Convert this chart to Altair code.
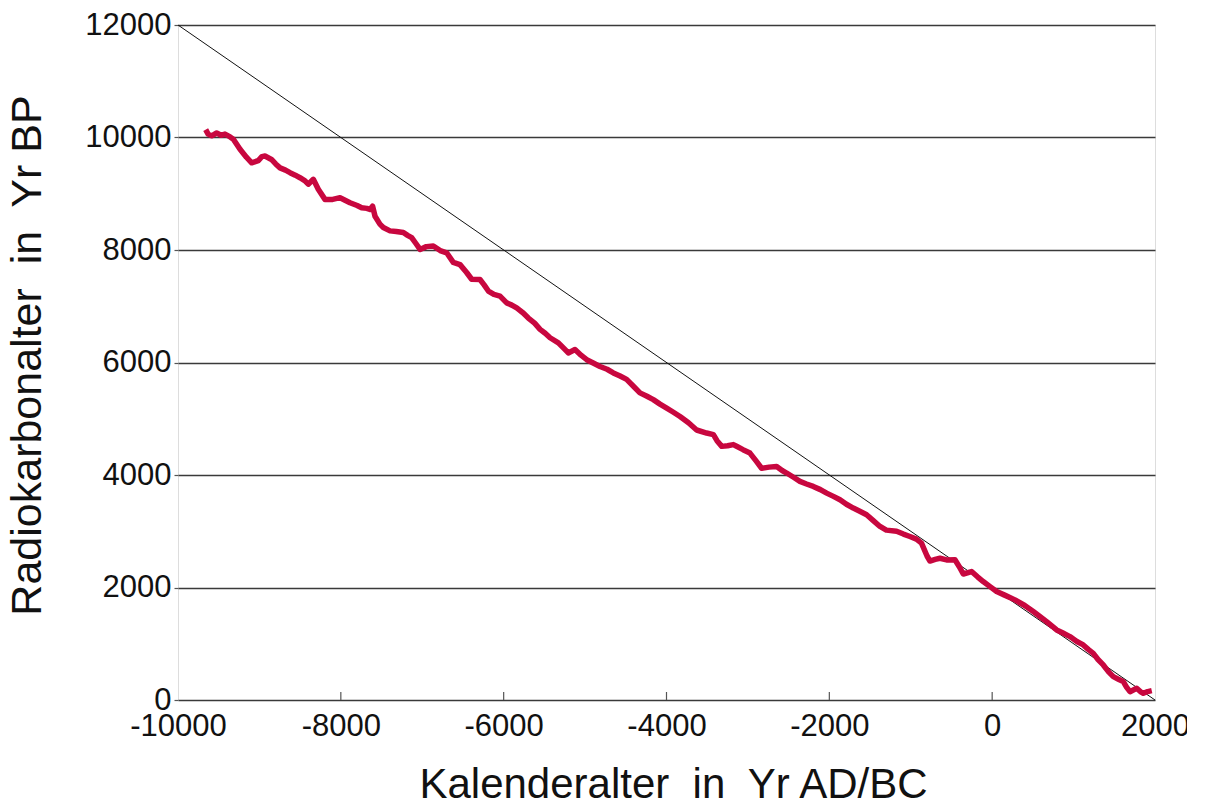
import altair as alt
import pandas as pd

# Calibration curve (calendar year AD/BC vs radiocarbon age BP)
cal_years = [-9660, -9630, -9586, -9525, -9470, -9423, -9360, -9320, -9238, -9160,
             -9095, -9014, -8970, -8932, -8852, -8800, -8747, -8680, -8624, -8560,
             -8502, -8440, -8400, -8338, -8277, -8195, -8100, -8010, -7887, -7800,
             -7744, -7680, -7642, -7610, -7580, -7520, -7478, -7396, -7320, -7232,
             -7180, -7130, -7080, -7027, -6950, -6864, -6780, -6700, -6619, -6536,
             -6455, -6393, -6291, -6240, -6188, -6120, -6045, -5963, -5900, -5840,
             -5760, -5697, -5620, -5553, -5490, -5430, -5328, -5260, -5206, -5124,
             -5050, -4980, -4900, -4817, -4730, -4653, -4570, -4490, -4400, -4326,
             -4240, -4162, -4080, -3998, -3920, -3834, -3730, -3630, -3507, -3424,
             -3380, -3321, -3250, -3179, -3139, -3060, -2975, -2900, -2832, -2740,
             -2647, -2580, -2524, -2440, -2361, -2280, -2197, -2110, -2033, -1950,
             -1869, -1790, -1706, -1620, -1542, -1460, -1378, -1300, -1174, -1090,
             -1010, -930, -868, -800, -764, -700, -641, -560, -457, -400,
             -355, -253, -180, -110, -30, 55, 160, 280, 400, 505,
             590, 669, 740, 792, 870, 955, 1040, 1119, 1180, 1242,
             1300, 1365, 1430, 1488, 1550, 1611, 1650, 1693, 1775, 1820,
             1857, 1910, 1960]
c14_ages = [10140, 10060, 10030, 10080, 10040, 10060, 10010, 9970, 9790, 9650,
            9550, 9590, 9660, 9670, 9610, 9530, 9460, 9420, 9375, 9330,
            9285, 9230, 9170, 9256, 9080, 8900, 8900, 8930, 8840, 8790,
            8750, 8740, 8720, 8780, 8600, 8460, 8400, 8340, 8330, 8310,
            8260, 8220, 8120, 8010, 8060, 8070, 7990, 7950, 7780, 7740,
            7600, 7480, 7476, 7380, 7270, 7210, 7180, 7060, 7020, 6970,
            6880, 6790, 6700, 6590, 6520, 6440, 6350, 6250, 6170, 6230,
            6130, 6050, 5990, 5930, 5880, 5815, 5760, 5700, 5570, 5460,
            5400, 5340, 5260, 5190, 5120, 5040, 4930, 4800, 4746, 4717,
            4610, 4509, 4520, 4540, 4510, 4450, 4390, 4250, 4120, 4140,
            4150, 4080, 4035, 3960, 3886, 3840, 3797, 3740, 3678, 3620,
            3560, 3480, 3412, 3350, 3293, 3190, 3085, 3020, 3000, 2950,
            2907, 2860, 2790, 2560, 2470, 2500, 2520, 2490, 2492, 2360,
            2240, 2284, 2190, 2106, 2020, 1928, 1860, 1780, 1680, 1572,
            1480, 1394, 1310, 1246, 1190, 1127, 1040, 979, 900, 830,
            720, 623, 500, 415, 370, 326, 230, 148, 208, 150,
            119, 150, 166]

# 1:1 reference line
ref_x = [-10000, 2000]
ref_y = [12000, 0]

# axis ticks
x_ticks = [-10000, -8000, -6000, -4000, -2000, 0, 2000]
y_ticks = [0, 2000, 4000, 6000, 8000, 10000, 12000]

curve = pd.DataFrame({"cal": cal_years, "c14": c14_ages, "order": list(range(len(cal_years)))})
ref = pd.DataFrame({"cal": ref_x, "c14": ref_y})
xt = pd.DataFrame({"t": x_ticks[1:-1]})

FONT = "Liberation Sans"

xscale = alt.Scale(domain=[-10000, 2000], nice=False, zero=False)
yscale = alt.Scale(domain=[0, 12000], nice=False)

x_axis = alt.Axis(values=x_ticks, title="Kalenderalter\u00a0 in\u00a0 Yr AD/BC", grid=False,
                  tickSize=0, labelPadding=11, labelFontSize=31, labelFont=FONT,
                  labelExpr="'' + datum.value",
                  labelColor="#111111", domain=False, labelFlush=False, labelOverlap=False,
                  titleFont=FONT, titleFontSize=42, titleFontWeight="normal", titleColor="#111111",
                  titleX=495, titleY=97, titleAlign="center", titleBaseline="alphabetic")
y_axis = alt.Axis(values=y_ticks, title="Radiokarbonalter\u00a0 in\u00a0 Yr BP", grid=True,
                  gridColor="#3a3a3a", gridWidth=1.6, tickSize=4, tickColor="#555555",
                  tickWidth=1.2, labelPadding=3, labelFontSize=31, labelFont=FONT,
                  labelExpr="'' + datum.value",
                  labelColor="#111111", domain=False, labelFlush=False, labelOverlap=False,
                  titleFont=FONT, titleFontSize=43, titleFontWeight="normal", titleColor="#111111",
                  titleX=-129, titleY=330, titleAngle=270, titleAlign="center",
                  titleBaseline="bottom")

refline = alt.Chart(ref).mark_line(color="#111111", strokeWidth=1).encode(
    x=alt.X("cal:Q", scale=xscale, axis=x_axis),
    y=alt.Y("c14:Q", scale=yscale, axis=y_axis),
)

line = alt.Chart(curve).mark_line(color="#c8073f", strokeWidth=5.5, strokeJoin="round").encode(
    x=alt.X("cal:Q", scale=xscale),
    y=alt.Y("c14:Q", scale=yscale),
    order="order:Q",
)

ticks = alt.Chart(xt).mark_rule(color="#555555", strokeWidth=1.2).encode(
    x=alt.X("t:Q", scale=xscale),
    y=alt.value(675),
    y2=alt.value(667),
)

chart = alt.layer(refline, line, ticks).properties(
    width=977,
    height=675,
    autosize=alt.AutoSizeParams(type="none"),
    padding={"left": 170, "top": 17, "right": 32, "bottom": 106},
).configure_view(
    fill="#e4e4e4", stroke="#4a4a4a", strokeWidth=1.5
).configure(background="white")

chart.save("out.html", embed_options={"renderer": "svg", "actions": False})
